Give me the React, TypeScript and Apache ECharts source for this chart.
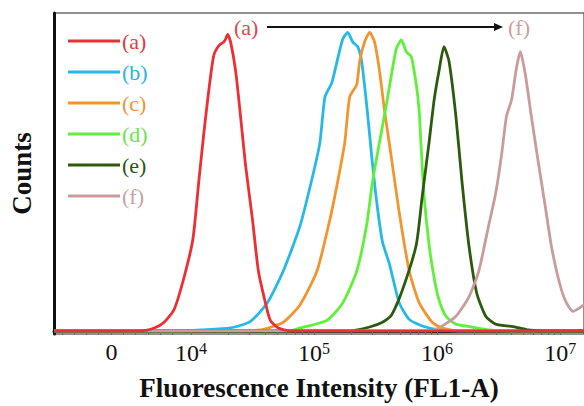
import React, { useEffect, useRef } from "react";
import * as echarts from "echarts";

// x: log10(fluorescence intensity), y: relative counts (%)
const seriesA: [number, number][] = [
  [2.887, 0], [3.597, 0], [3.702, 0.9], [3.782, 2.7], [3.863, 6.7], [3.943, 16.7], [4.016, 28.9],
  [4.064, 47.1], [4.105, 62.3], [4.145, 75.7], [4.185, 86.6], [4.226, 89.7], [4.266, 90.9],
  [4.282, 91.8], [4.298, 93.3], [4.322, 90.9], [4.363, 81.8], [4.403, 67.5], [4.443, 52.3],
  [4.5, 35.0], [4.548, 18.8], [4.605, 8.8], [4.645, 3.3], [4.71, 0.9], [4.806, 0], [7.194, 0],
];
const seriesB: [number, number][] = [
  [2.887, 0], [3.9, 0], [4.081, 0.3], [4.322, 0.9], [4.484, 3.0], [4.621, 8.8], [4.75, 18.8],
  [4.887, 33.1], [4.992, 49.2], [5.048, 59.3], [5.089, 73.6], [5.145, 78.1], [5.193, 85.7],
  [5.234, 91.8], [5.274, 93.9], [5.314, 90.9], [5.355, 89.4], [5.387, 84.8], [5.427, 71.4],
  [5.468, 55.3], [5.508, 41.0], [5.556, 28.0], [5.613, 21.0], [5.693, 8.8], [5.774, 3.6],
  [5.879, 1.5], [6.016, 0.3], [6.2, 0], [7.194, 0],
];
const seriesC: [number, number][] = [
  [2.887, 0], [4.3, 0], [4.564, 0.3], [4.75, 2.7], [4.887, 8.2], [5.024, 18.8], [5.129, 35.0],
  [5.193, 47.1], [5.25, 59.3], [5.29, 73.6], [5.347, 77.5], [5.371, 84.8], [5.411, 90.9],
  [5.452, 93.9], [5.492, 90.9], [5.532, 81.8], [5.572, 69.6], [5.629, 54.4], [5.693, 37.1],
  [5.774, 18.8], [5.855, 8.8], [5.96, 2.7], [6.04, 0.9], [6.177, 0], [7.194, 0],
];
const seriesD: [number, number][] = [
  [2.887, 0], [4.806, 0], [4.887, 0.9], [5.105, 3.3], [5.234, 8.8], [5.347, 18.8], [5.427, 33.1],
  [5.476, 47.1], [5.532, 59.3], [5.589, 71.4], [5.629, 80.5], [5.669, 88.8], [5.71, 91.5],
  [5.75, 87.8], [5.79, 86.3], [5.831, 77.5], [5.855, 69.0], [5.871, 57.4], [5.895, 42.2],
  [5.935, 27.1], [5.976, 16.7], [6.016, 9.7], [6.072, 4.6], [6.153, 2.1], [6.282, 1.2],
  [6.419, 0.3], [6.6, 0], [7.194, 0],
];
const seriesE: [number, number][] = [
  [2.887, 0], [5.29, 0], [5.452, 1.2], [5.556, 2.7], [5.629, 4.9], [5.718, 12.8], [5.831, 27.1],
  [5.879, 42.2], [5.935, 59.3], [5.976, 72.6], [6.016, 81.8], [6.056, 89.4], [6.097, 84.8],
  [6.153, 67.5], [6.202, 47.1], [6.258, 27.1], [6.322, 11.9], [6.395, 4.6], [6.476, 2.1],
  [6.637, 1.2], [6.742, 0.3], [6.85, 0], [7.194, 0],
];
const seriesF: [number, number][] = [
  [2.887, 0], [5.935, 0], [6.016, 0.9], [6.153, 4.6], [6.258, 10.6], [6.339, 18.8], [6.419, 33.1],
  [6.476, 43.2], [6.524, 55.3], [6.564, 67.5], [6.605, 72.6], [6.645, 82.7], [6.677, 87.8],
  [6.718, 80.5], [6.766, 67.5], [6.822, 53.2], [6.879, 39.2], [6.927, 27.1], [6.984, 16.7],
  [7.04, 9.7], [7.105, 6.1], [7.161, 7.3], [7.226, 9.1],
];

const seriesNames = ["(a)", "(b)", "(c)", "(d)", "(e)", "(f)"];
const lineColors = ["#ec2f35", "#27b9e6", "#f2952f", "#5ff03a", "#2c5a0e", "#c99c9b"];
const textColors = ["#dd3b40", "#2ab3dd", "#e8953a", "#6ee050", "#2d5512", "#c8a2a2"];

const labelValues = [3.355, 4, 5, 6, 7];
const labelTexts = ["0", "10{sup|4}", "10{sup|5}", "10{sup|6}", "10{sup|7}"];
const tickValues = [
  2.95, 3.05, 3.15, 3.25, 3.355, 3.45, 3.55, 3.65, 3.75, 3.85,
  4, 4.301, 4.477, 4.602, 4.699, 4.778, 4.845, 4.903, 4.954,
  5, 5.301, 5.477, 5.602, 5.699, 5.778, 5.845, 5.903, 5.954,
  6, 6.301, 6.477, 6.602, 6.699, 6.778, 6.845, 6.903, 6.954,
  7,
];

const SERIF = "'Liberation Serif', 'Times New Roman', serif";

export default function App() {
  const ref = useRef<HTMLDivElement>(null);
  useEffect(() => {
    if (!ref.current) return;
    const chart = echarts.init(ref.current, null, { renderer: "svg" });
    const allData = [seriesA, seriesB, seriesC, seriesD, seriesE, seriesF];
    chart.setOption({
      animation: false,
      backgroundColor: "#ffffff",
      grid: {
        left: 52,
        top: 13,
        width: 534,
        height: 329,
        show: true,
        borderColor: "#222",
        borderWidth: 1,
      },
      legend: {
        orient: "vertical",
        left: 68,
        top: 30,
        padding: 0,
        icon: "rect",
        itemWidth: 52,
        itemHeight: 3,
        itemGap: 9,
        textStyle: { fontFamily: SERIF, fontSize: 22, padding: [0, 0, 0, -3] },
        data: seriesNames.map((n, i) => ({ name: n, textStyle: { color: textColors[i] } })),
      },
      xAxis: {
        type: "value",
        min: 2.887,
        max: 7.194,
        splitLine: { show: false },
        axisLine: { lineStyle: { color: "#111", width: 3 } },
        axisTick: {
          show: true,
          customValues: tickValues,
          length: 4,
          lineStyle: { color: "#666", width: 1 },
        },
        axisLabel: {
          customValues: labelValues,
          margin: 6,
          color: "#111",
          fontFamily: SERIF,
          fontSize: 24,
          formatter: (v: number) => {
            const i = labelValues.findIndex((x) => Math.abs(x - v) < 1e-6);
            return i >= 0 ? labelTexts[i] : "";
          },
          rich: {
            sup: { fontFamily: SERIF, fontSize: 16, color: "#111", verticalAlign: "top", padding: [0, 0, 10, 0] },
          },
        },
        name: "Fluorescence Intensity (FL1-A)",
        nameLocation: "middle",
        nameGap: 40,
        nameTextStyle: { fontFamily: SERIF, fontSize: 27, fontWeight: "bold", color: "#111" },
      },
      yAxis: {
        type: "value",
        min: -1,
        max: 100,
        splitLine: { show: false },
        axisLabel: { show: false },
        axisTick: { show: false },
        axisLine: { show: true, lineStyle: { color: "#111", width: 3 } },
        name: "Counts",
        nameLocation: "middle",
        nameGap: 19,
        nameRotate: 90,
        nameTextStyle: { fontFamily: SERIF, fontSize: 27, fontWeight: "bold", color: "#111" },
      },
      series: allData.map((d, i) => ({
        name: seriesNames[i],
        type: "line",
        data: d,
        showSymbol: false,
        symbol: "none",
        smooth: 0.2,
        z: i === 0 ? 4 : 2,
        lineStyle: { color: lineColors[i], width: 2.8 },
        itemStyle: { color: lineColors[i] },
      })),
      graphic: [
        {
          type: "text",
          left: 234,
          top: 16,
          style: { text: "(a)", fontFamily: SERIF, fontSize: 22, fill: "#d8484c" },
        },
        {
          type: "line",
          shape: { x1: 267, y1: 27, x2: 496, y2: 27 },
          style: { stroke: "#111", lineWidth: 2 },
        },
        {
          type: "polygon",
          shape: { points: [[503, 27], [494, 23], [494, 31]] },
          style: { fill: "#111" },
        },
        {
          type: "text",
          left: 508,
          top: 16,
          style: { text: "(f)", fontFamily: SERIF, fontSize: 22, fill: "#c9a0a0" },
        },
      ],
    });
    return () => chart.dispose();
  }, []);
  return (
    <div
      ref={ref}
      style={{ position: "fixed", left: 0, top: 0, width: 584, height: 406, background: "#fff" }}
    />
  );
}
